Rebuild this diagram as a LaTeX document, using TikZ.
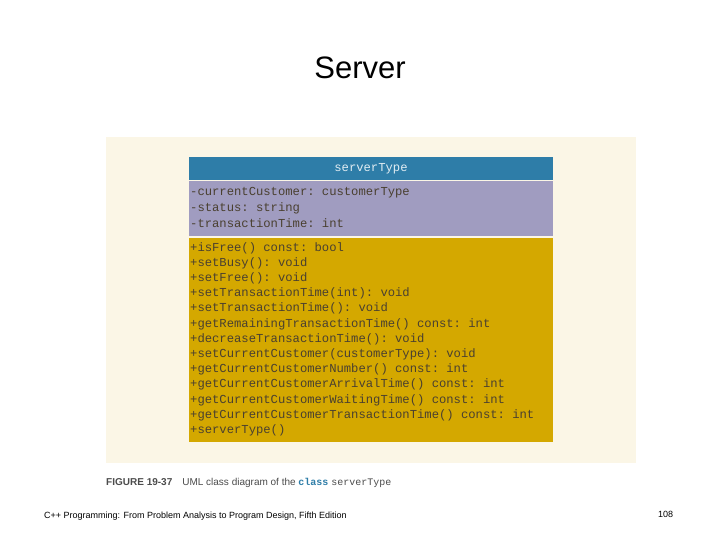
\documentclass[tikz,border=0pt]{standalone}
\usepackage{fontspec}
\setmainfont{Liberation Sans}
\setmonofont{Liberation Mono}
\usetikzlibrary{positioning}
\definecolor{panel}{HTML}{FBF6E6}
\definecolor{headblue}{HTML}{2E7DA8}
\definecolor{attrpurple}{HTML}{A09CC0}
\definecolor{methgold}{HTML}{D4A800}
\definecolor{codegray}{HTML}{4A4030}
\begin{document}
\begin{tikzpicture}[x=1pt, y=-1pt,
    member/.style={anchor=west, inner sep=0pt, font=\ttfamily\fontsize{12.2}{14}\selectfont, text=codegray},
    band/.style={draw=none}
]
    \useasboundingbox[fill=white] (0,0) rectangle (720,540);
    % Title
    \node[font=\fontsize{31}{36}\selectfont] (title) at (360,68) {Server};

    % Panel and class box
    \fill[panel] (106,137) rectangle (636,463);
    \fill[headblue] (189,157) rectangle (553,180);
    \fill[attrpurple] (189,181) rectangle (553,236);
    \fill[methgold] (189,238) rectangle (553,442);
    \node[member, anchor=center, text=white!85!headblue] (cls) at (371,169) {serverType};

    % Attributes
    \foreach \txt [count=\i from 0] in {-currentCustomer: customerType, -status: string, -transactionTime: int}
        \node[member] (attr\i) at (190,193+15.2*\i) {\txt};

    % Methods
    \foreach \txt [count=\i from 0] in {+isFree() const: bool, +setBusy(): void, +setFree(): void,
        +setTransactionTime(int): void, +setTransactionTime(): void,
        +getRemainingTransactionTime() const: int, +decreaseTransactionTime(): void,
        +setCurrentCustomer(customerType): void, +getCurrentCustomerNumber() const: int,
        +getCurrentCustomerArrivalTime() const: int, +getCurrentCustomerWaitingTime() const: int,
        +getCurrentCustomerTransactionTime() const: int, +serverType()}
        \node[member] (meth\i) at (190,248+15.2*\i) {\txt};

    % Caption
    \node[anchor=west, inner sep=0pt, font=\fontsize{10}{12}\selectfont, text=black!70] (caption) at (106,483)
        {\textbf{FIGURE 19-37}\quad UML class diagram of the {\ttfamily\bfseries\color{headblue}class} {\ttfamily serverType}};

    % Footer
    \node[anchor=west, inner sep=0pt, font=\fontsize{9}{11}\selectfont] (footer) at (44,516)
        {C++ Programming: From Problem Analysis to Program Design, Fifth Edition};
    \node[anchor=west, inner sep=0pt, font=\fontsize{9}{11}\selectfont] (page) at (658,514) {108};
\end{tikzpicture}
\end{document}
